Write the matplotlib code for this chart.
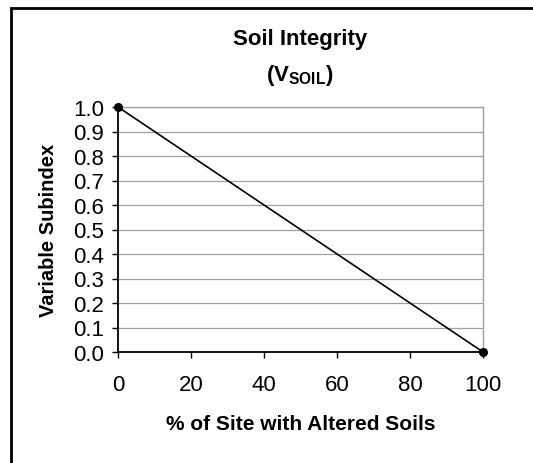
import matplotlib.pyplot as plt
from matplotlib.patches import Rectangle

plt.rcParams['font.family'] = ['Liberation Sans', 'DejaVu Sans']
plt.rcParams['mathtext.fontset'] = 'custom'
plt.rcParams['mathtext.bf'] = 'Liberation Sans:bold'
plt.rcParams['mathtext.rm'] = 'Liberation Sans'

# data
pct_altered = [0, 100]
subindex = [1.0, 0.0]
x_ticks = [0, 20, 40, 60, 80, 100]
y_ticks = [0.0, 0.1, 0.2, 0.3, 0.4, 0.5, 0.6, 0.7, 0.8, 0.9, 1.0]

fig = plt.figure(figsize=(5.33, 4.64), dpi=100)
ax = fig.add_axes([118 / 533, 1 - 353 / 464, 365 / 533, 245 / 464])

# outer chart border (right and bottom edges fall outside the image)
fig.patches.append(Rectangle((11 / 533, -0.05), 1.0, 1 - 9 / 464 + 0.05,
                             transform=fig.transFigure, fill=False,
                             edgecolor='black', linewidth=2.0, clip_on=False))

for y in y_ticks[1:]:
    ax.axhline(y, color='#a0a0a0', lw=0.9, zorder=1)
ax.plot(pct_altered, subindex, color='black', lw=1.2, marker='o',
        markersize=5.5, clip_on=False, zorder=3)

ax.set_xlim(0, 100)
ax.set_ylim(0, 1.0)
ax.set_xticks(x_ticks)
ax.set_yticks(y_ticks)
ax.set_xticklabels([str(v) for v in x_ticks])
ax.set_yticklabels(['%.1f' % v for v in y_ticks])
ax.tick_params(direction='out', length=4.5, width=1, labelsize=16, pad=5.5)
ax.tick_params(axis='x', pad=11)

for s in ['left', 'bottom']:
    ax.spines[s].set_color('black')
    ax.spines[s].set_linewidth(1.3)
for s in ['top', 'right']:
    ax.spines[s].set_color('#a0a0a0')
    ax.spines[s].set_linewidth(1.0)

ax.set_ylabel('Variable Subindex', fontsize=14.5, fontweight='bold', labelpad=11)
ax.set_xlabel('% of Site with Altered Soils', fontsize=15, fontweight='bold', labelpad=14)

fig.text(300 / 533, 1 - 40 / 464, 'Soil Integrity', ha='center', va='center',
         fontsize=16, fontweight='bold')
fig.text(300 / 533, 1 - 76 / 464, r'(V$_{\mathbf{SOIL}}$)', ha='center', va='center',
         fontsize=16, fontweight='bold')

fig.savefig('out.png', dpi=100)
